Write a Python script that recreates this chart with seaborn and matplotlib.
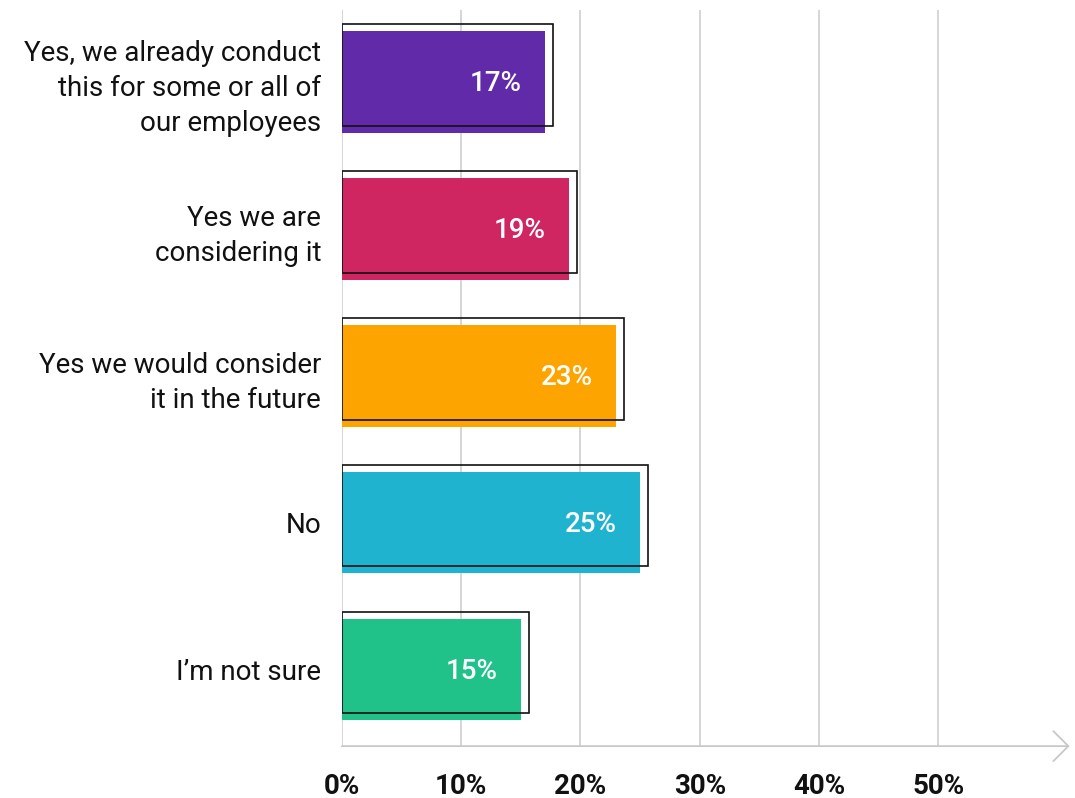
import matplotlib
matplotlib.use("Agg")
import matplotlib.pyplot as plt
import matplotlib.transforms as mtransforms
import seaborn as sns
import pandas as pd

# Survey answers and share of respondents (%)
answers = [
    "Yes, we already conduct\nthis for some or all of\nour employees",
    "Yes we are\nconsidering it",
    "Yes we would consider\nit in the future",
    "No",
    "I\u2019m not sure",
]
shares = [17, 19, 23, 25, 15]
tick_values = [0, 10, 20, 30, 40, 50]
tick_labels = ["0%", "10%", "20%", "30%", "40%", "50%"]
colors = ["#612AA8", "#CF2560", "#FEA400", "#20B3D0", "#20C28A"]

df = pd.DataFrame({"answer": answers, "share": shares})

sns.set_theme(style="white")
plt.rcParams["font.family"] = ["Roboto", "DejaVu Sans"]

fig = plt.figure(figsize=(10.75, 7.98), dpi=100)
ax = fig.add_axes([0.318, 0.065, 0.677, 0.9225])

sns.barplot(data=df, y="answer", x="share", hue="answer", palette=colors,
            orient="h", width=0.69, legend=False, ax=ax, saturation=1,
            linewidth=0)

# Offset outline frames behind each bar: shifted up and extended right
shift_up = mtransforms.ScaledTranslation(0, 7 / 100, fig.dpi_scale_trans)
for i, v in enumerate(shares):
    ax.barh(i, v + 0.68, height=0.69, left=0, fill=False, edgecolor="#111111",
            linewidth=1.2, transform=ax.transData + shift_up, zorder=3)

# Value labels inside bar ends
pad_left = mtransforms.ScaledTranslation(-23 / 100, 0, fig.dpi_scale_trans)
for i, v in enumerate(shares):
    ax.text(v, i + 0.01, f"{v}%", color="white", fontsize=20, fontweight="medium",
            ha="right", va="center", transform=ax.transData + pad_left,
            zorder=4)

ax.set_xlim(0, 61)
ax.set_ylim(4.52, -0.49)
ax.set_xticks(tick_values)
ax.set_xticklabels(tick_labels, fontsize=20, fontweight="bold", color="#111111")
ax.tick_params(axis="x", length=0, pad=19)
ax.tick_params(axis="y", length=0, pad=15)
for lbl in ax.get_yticklabels():
    lbl.set_fontsize(20)
    lbl.set_color("#111111")
    lbl.set_linespacing(1.38)
    lbl.set_horizontalalignment("right")
ax.set_xlabel("")
ax.set_ylabel("")

ax.grid(axis="x", color="#d2d2d2", linewidth=1.3)
ax.set_axisbelow(True)
for s in ["top", "right", "left", "bottom"]:
    ax.spines[s].set_visible(False)

# Horizontal axis line ending in an open arrow
ax.annotate("", xy=(1.0, 0), xytext=(0, 0), xycoords="axes fraction",
            textcoords="axes fraction",
            arrowprops=dict(arrowstyle="->,head_length=0.9,head_width=0.9",
                            color="#c8c8c8", lw=1.3, shrinkA=0, shrinkB=0),
            annotation_clip=False)

fig.savefig("out.png", dpi=100, facecolor="white")
